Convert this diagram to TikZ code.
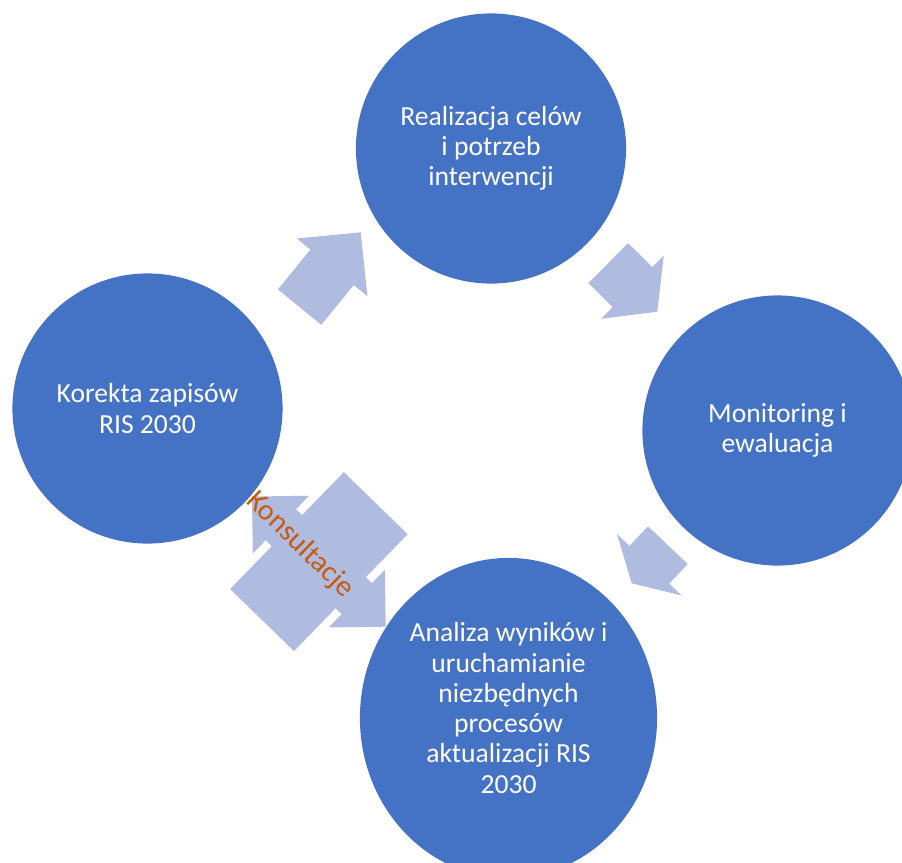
\documentclass[tikz,border=0pt]{standalone}
\usepackage{fontspec}
\setmainfont{Carlito}
\usetikzlibrary{arrows.meta,shapes.geometric}
\definecolor{phaseblue}{HTML}{4472C4}
\definecolor{arrowgray}{RGB}{176,188,223}
\definecolor{konsorange}{HTML}{C55A11}

\begin{document}
\begin{tikzpicture}[x=0.01cm,y=-0.01cm,
		phase/.style={circle,fill=phaseblue,minimum size=2.7cm,inner sep=0pt,text=white,align=center,
			font=\fontsize{7.85pt}{8.6pt}\selectfont},
		cycarrow/.style={arrowgray,line width=0.557cm}]
		\useasboundingbox (0,0) rectangle (902,863);
		\clip (0,0) rectangle (902,863);
%		\draw[help lines,step=100] (0,0) grid (902,863);
		\path (147.5,408.5) coordinate (korekta);
		\path (491,148.5) coordinate (realizacja);
		\path (777.5,430.5) coordinate (monitoring);
		\path (508.5,718) coordinate (analiza);

		\path (299.7,307) coordinate (a1_tail);
		\path (360.7,232.3) coordinate (a1_tip);
		\path (608.3,263.2) coordinate (a2_tail);
		\path (657.3,311.7) coordinate (a2_tip);
		\path (667.8,545.3) coordinate (a3_tail);
		\path (631.7,583.3) coordinate (a3_tip);

		\path (252,496.5) coordinate (kons_l);
		\path (385.7,626.7) coordinate (kons_r);
		\path (318.9,561.6) coordinate (kons_mid);
		\path (300,545) coordinate (kons_txt);

		\node[phase] (korekta_c) at (korekta) {Korekta zapisów\\RIS 2030};
		\node[phase] (realizacja_c) at (realizacja) {Realizacja celów\\i potrzeb\\interwencji};
		\node[phase] (monitoring_c) at (monitoring) {Monitoring i\\ewaluacja};
		\node[phase,ellipse,minimum width=2.97cm,minimum height=3.2cm,text depth=0.2cm] (analiza_c) at (analiza)
			{Analiza wyników i\\uruchamianie\\niezbędnych\\procesów\\aktualizacji RIS\\2030};

		% shafts reach a bit into the heads, so no seam shows
		\draw[cycarrow,shorten >=0.38cm] (a1_tail) -- (a1_tip);
		\draw[cycarrow,-{Triangle[width=0.912cm,length=0.452cm,line width=0pt]}] (a1_tail) -- (a1_tip);
		\draw[cycarrow,line width=0.56cm,shorten >=0.27cm] (a2_tail) -- (a2_tip);
		\draw[cycarrow,line width=0.56cm,-{Triangle[width=0.89cm,length=0.349cm,line width=0pt]}] (a2_tail) -- (a2_tip);
		\draw[cycarrow,line width=0.545cm,shorten >=0.2cm] (a3_tail) -- (a3_tip);
		\draw[cycarrow,line width=0.545cm,-{Triangle[width=0.893cm,length=0.256cm,line width=0pt]}] (a3_tail) -- (a3_tip);

		\draw[cycarrow,line width=0.43cm,shorten >=0.3cm,shorten <=0.3cm] (kons_l) -- (kons_r);
		\draw[cycarrow,line width=0.43cm,{Triangle[width=0.805cm,length=0.403cm,line width=0pt]}-{Triangle[width=0.805cm,length=0.403cm,line width=0pt]}] (kons_l) -- (kons_r);
		\node[fill=arrowgray,inner sep=0pt,minimum width=0.89cm,minimum height=1.63cm,rotate=-44.2] (kons_box) at (kons_mid) {};
		\node[rotate=-44.2,text=konsorange,inner sep=0pt,font=\fontsize{8.4pt}{9pt}\selectfont] (kons_lbl) at (kons_txt) {Konsultacje};
	\end{tikzpicture}
\end{document}
